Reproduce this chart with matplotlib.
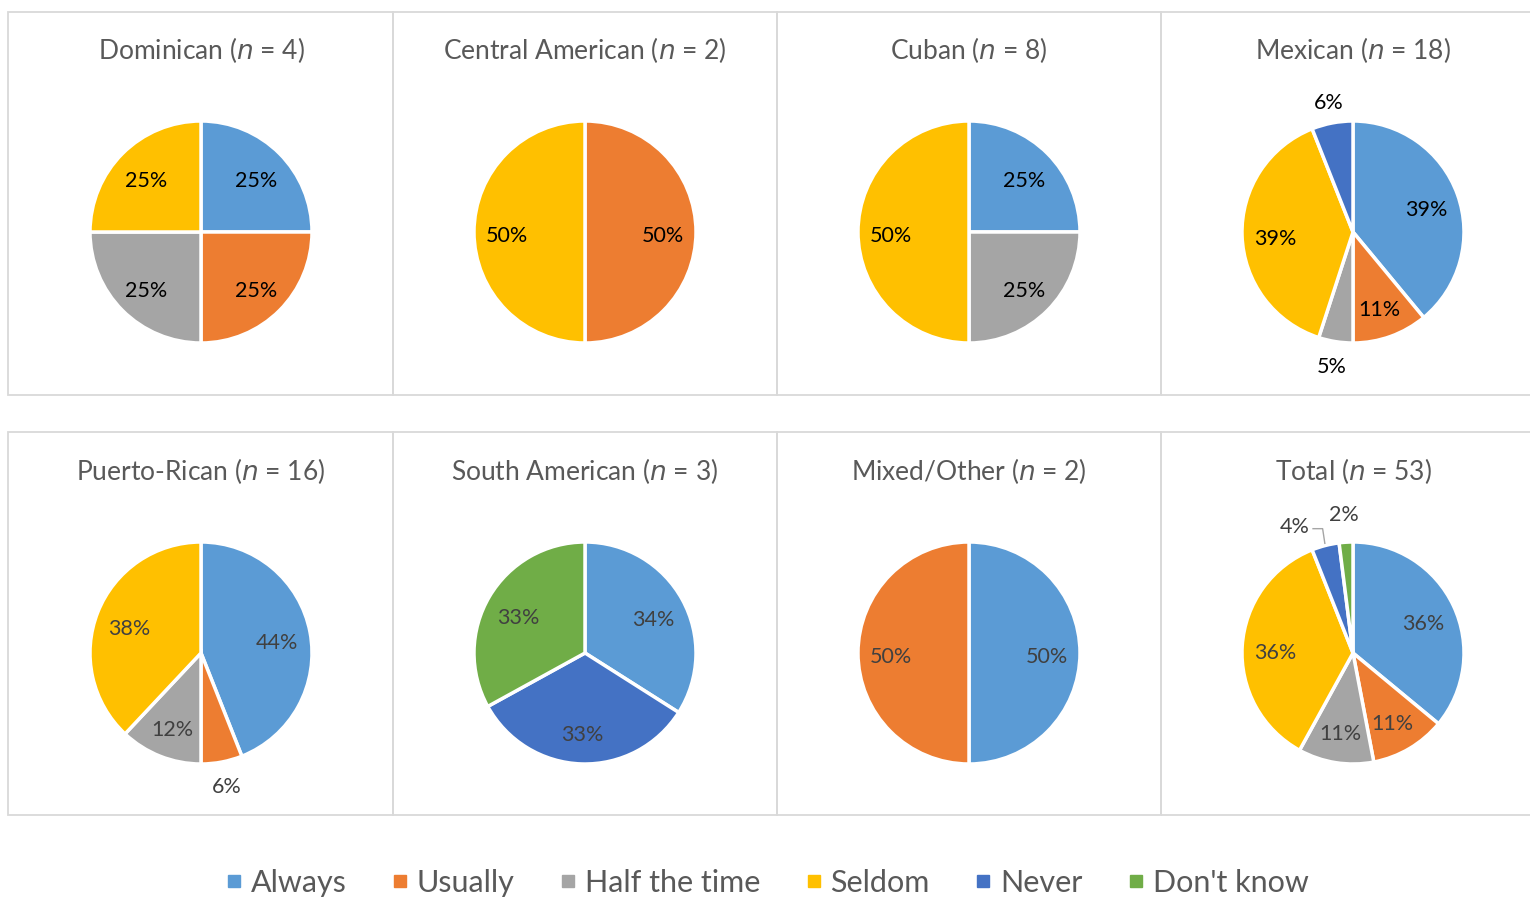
import matplotlib
matplotlib.use("Agg")
import numpy as np
from matplotlib import pyplot as plt
from matplotlib.patches import Rectangle
from matplotlib.lines import Line2D

plt.rcParams['font.family'] = ['Lato', 'DejaVu Sans']

categories = ['Always', 'Usually', 'Half the time', 'Seldom', 'Never', "Don't know"]
colors = ['#5B9BD5', '#ED7D31', '#A5A5A5', '#FFC000', '#4472C4', '#70AD47']

groups = ['Dominican', 'Central American', 'Cuban', 'Mexican',
          'Puerto-Rican', 'South American', 'Mixed/Other', 'Total']
n_sizes = [4, 2, 8, 18, 16, 3, 2, 53]

# percent per category (Always, Usually, Half, Seldom, Never, Don't know)
dominican = [25, 25, 25, 25, 0, 0]
central_american = [0, 50, 0, 50, 0, 0]
cuban = [25, 0, 25, 50, 0, 0]
mexican = [39, 11, 5, 39, 6, 0]
puerto_rican = [44, 6, 12, 38, 0, 0]
south_american = [34, 0, 0, 0, 33, 33]
mixed_other = [50, 50, 0, 0, 0, 0]
total = [36, 11, 11, 36, 4, 2]
values = [dominican, central_american, cuban, mexican,
          puerto_rican, south_american, mixed_other, total]

# labels placed outside the pie: (group, category index) -> (radius, angle or None)
outside = {(3, 4): (1.18, None), (3, 2): (1.23, None),
           (4, 1): (1.23, None),
           (7, 4): (1.25, 115), (7, 5): (1.25, None)}

W, H = 1530, 900
fig = plt.figure(figsize=(W / 100, H / 100), dpi=100)

# panel frames
col_edges = [8, 393, 777, 1161, 1545]
row_tops = [12, 432]
panel_h = 383
for top in row_tops:
    for i in range(4):
        x0 = col_edges[i]
        fig.patches.append(Rectangle((x0 / W, 1 - (top + panel_h) / H),
                                     (col_edges[i + 1] - x0) / W, panel_h / H,
                                     transform=fig.transFigure, fill=False,
                                     edgecolor='#D9D9D9', linewidth=1.3))

radius = 111
ext = 1.45
for k, g in enumerate(groups):
    row, col = divmod(k, 4)
    cx = [201, 585, 969, 1353][col]
    cy = [232, 653][row]
    size = radius * ext * 2
    ax = fig.add_axes([(cx - radius * ext) / W, 1 - (cy + radius * ext) / H,
                       size / W, size / H])
    vals = values[k]
    idx = [i for i, v in enumerate(vals) if v > 0]
    wedges, _ = ax.pie([vals[i] for i in idx], colors=[colors[i] for i in idx],
                       startangle=90, counterclock=False, radius=1,
                       wedgeprops=dict(edgecolor='white', linewidth=2.5))
    ax.set_xlim(-ext, ext)
    ax.set_ylim(-ext, ext)
    ax.set_aspect('equal')
    ax.axis('off')
    txt_color = 'black' if row == 0 else '#404040'
    for w, i in zip(wedges, idx):
        mid = np.deg2rad((w.theta1 + w.theta2) / 2)
        r = 0.7
        dy = -0.04
        if (k, i) in outside:
            r, ang = outside[(k, i)]
            dy = 0
            if ang is not None:
                # leader line from slice edge to the label
                ax.plot([np.cos(mid) * 1.02, np.cos(mid) * 1.02 - 0.02, -0.36],
                        [np.sin(mid) * 1.02, 1.12, 1.12],
                        color='#A5A5A5', linewidth=1)
                mid = np.deg2rad(ang)
        ax.text(r * np.cos(mid), r * np.sin(mid) + dy, '%d%%' % vals[i],
                ha='center', va='center', fontsize=15.5, color=txt_color)
    fig.text(cx / W, 1 - ([50, 471][row]) / H,
             g + r' ($\mathit{n}$ = %d)' % n_sizes[k],
             ha='center', va='center', fontsize=19, color='#595959')

handles = [Line2D([], [], marker='s', linestyle='none', markersize=9,
                  markerfacecolor=c, markeredgecolor=c) for c in colors]
leg = fig.legend(handles, categories, loc='center', ncol=6,
                 bbox_to_anchor=(0.5, 1 - 883 / H), frameon=False,
                 fontsize=22, handletextpad=0.15, columnspacing=1.35,
                 handlelength=0.8)
for t in leg.get_texts():
    t.set_color('#595959')

fig.savefig('out.png', dpi=100)
